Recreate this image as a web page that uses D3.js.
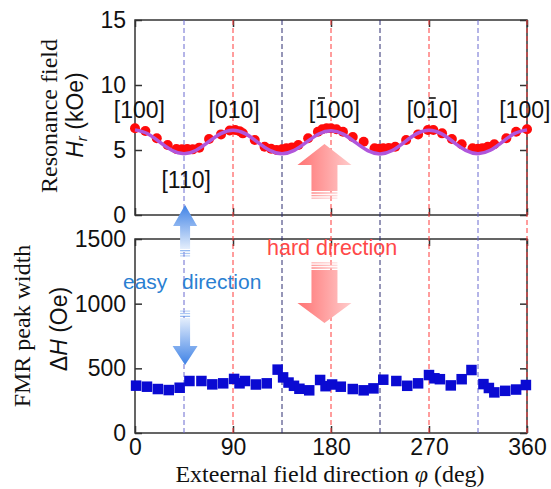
<!DOCTYPE html>
<html>
<head>
<meta charset="utf-8">
<script src="https://cdn.jsdelivr.net/npm/d3@7"></script>
<style>
body { margin: 0; background: #fff; }
svg { display: block; }
.tick text { font-family: "Liberation Sans", Arial, sans-serif; font-size: 23px; fill: #111; }
.tick line { stroke: #333; stroke-width: 1.5; }
.serif { font-family: "Liberation Serif", "Times New Roman", serif; }
.sans { font-family: "Liberation Sans", Arial, sans-serif; }
</style>
</head>
<body>
<div id="root"></div>
<script>
// resonance field (kOe) vs angle
const hrPhi = [0, 9.5, 20, 30, 38, 43, 48, 53, 59, 68, 79, 87, 92, 96, 99, 110, 119, 125, 130, 135, 139, 144, 150, 159, 168, 172, 176, 180, 185, 191, 200, 210, 220, 224, 228, 233, 239, 249, 260, 269, 274, 282, 291, 300, 310, 315, 319, 324, 330, 341, 350, 360];
const hrVal = [6.67, 6.46, 5.9, 5.38, 5.08, 5.05, 5.08, 5.05, 5.18, 5.85, 6.2, 6.5, 6.54, 6.45, 6.28, 5.77, 5.25, 5.1, 5.0, 5.05, 5.13, 5.2, 5.38, 5.9, 6.4, 6.6, 6.67, 6.67, 6.6, 6.4, 6.0, 5.64, 5.13, 5.1, 5.13, 5.15, 5.25, 5.77, 6.2, 6.54, 6.54, 6.28, 5.85, 5.44, 5.13, 5.1, 5.13, 5.25, 5.44, 5.9, 6.4, 6.6];

// fitted curve
const fitPhi = [0, 11.25, 22.5, 33.75, 45, 56.25, 67.5, 78.75, 90, 101.25, 112.5, 123.75, 135, 146.25, 157.5, 168.75, 180, 191.25, 202.5, 213.75, 225, 236.25, 247.5, 258.75, 270, 281.25, 292.5, 303.75, 315, 326.25, 337.5, 348.75, 360];
const fitVal = [6.55, 6.27, 5.62, 4.98, 4.72, 4.98, 5.62, 6.26, 6.52, 6.26, 5.61, 4.97, 4.72, 4.97, 5.6, 6.23, 6.48, 6.22, 5.58, 4.95, 4.7, 4.96, 5.61, 6.26, 6.52, 6.26, 5.61, 4.97, 4.72, 4.98, 5.63, 6.28, 6.55];

// FMR peak width (Oe)
const dhPhi = [1, 11, 21, 31, 41, 50, 61, 71, 81, 91, 96, 101, 111, 121, 131, 136, 141, 146, 151, 160, 170, 175, 181, 189, 200, 210, 219, 228, 240, 250, 260, 270, 275, 280, 290, 300, 309, 320, 325, 330, 340, 350, 359];
const dhVal = [366, 358, 340, 332, 350, 402, 402, 376, 384, 418, 384, 402, 375, 384, 490, 430, 390, 365, 342, 330, 410, 362, 375, 358, 340, 330, 345, 412, 402, 365, 384, 448, 423, 416, 368, 416, 487, 378, 348, 314, 326, 336, 371];

const xTicks = [0, 90, 180, 270, 360];
const hrTicks = [0, 5, 10, 15];
const dhTicks = [0, 500, 1000, 1500];

const guideAngles = [45, 90, 135, 180, 225, 270, 315, 360];
const guideColors = ["#6a6ad0", "#ff3b3b", "#2c2c70", "#ff3b3b", "#2c2c70", "#ff3b3b", "#6a6ad0", "#ff3b3b"];

// bar = index of the character that carries an overbar
const dirLabels = [
	{ text: "[100]", phi: 4, hr: 7.5 },
	{ text: "[010]", phi: 91, hr: 7.5 },
	{ text: "[100]", phi: 183, hr: 7.5, bar: 1 },
	{ text: "[010]", phi: 273, hr: 7.5, bar: 2 },
	{ text: "[100]", phi: 358, hr: 7.5 },
	{ text: "[110]", phi: 47, hr: 2.05 }
];

const W = 551, H = 489;
const x = d3.scaleLinear().domain([0, 360]).range([135, 527]);
const yTop = d3.scaleLinear().domain([0, 15]).range([215, 20]);
const yBot = d3.scaleLinear().domain([0, 1500]).range([433, 239]);

const svg = d3.select("#root").append("svg").attr("width", W).attr("height", H);

const defs = svg.append("defs");
const blueUp = defs.append("linearGradient").attr("id", "blueUp").attr("x1", 0).attr("y1", 0).attr("x2", 0).attr("y2", 1);
blueUp.append("stop").attr("offset", "0%").attr("stop-color", "#3f82e6");
blueUp.append("stop").attr("offset", "100%").attr("stop-color", "#e4eefc");
const blueDown = defs.append("linearGradient").attr("id", "blueDown").attr("x1", 0).attr("y1", 0).attr("x2", 0).attr("y2", 1);
blueDown.append("stop").attr("offset", "0%").attr("stop-color", "#e4eefc");
blueDown.append("stop").attr("offset", "100%").attr("stop-color", "#3f82e6");
const redGrad = defs.append("linearGradient").attr("id", "redGrad").attr("x1", 0).attr("y1", 0).attr("x2", 1).attr("y2", 0);
redGrad.append("stop").attr("offset", "0%").attr("stop-color", "#ff7373");
redGrad.append("stop").attr("offset", "100%").attr("stop-color", "#ffcccc");

const drawPanel = (yScale, ticks, withXLabels) => {
	const [y0, y1] = yScale.range();
	const g = svg.append("g");
	g.append("g").attr("transform", `translate(0,${y0})`)
		.call(d3.axisBottom(x).tickValues(xTicks).tickSize(-7).tickPadding(6).tickFormat(withXLabels ? d3.format("d") : ""))
		.call(a => a.select(".domain").remove());
	g.append("g").attr("transform", `translate(0,${y1})`)
		.call(d3.axisTop(x).tickValues(xTicks).tickSize(-7).tickFormat(""))
		.call(a => a.select(".domain").remove());
	g.append("g").attr("transform", `translate(${x(0)},0)`)
		.call(d3.axisLeft(yScale).tickValues(ticks).tickSize(-7).tickPadding(9).tickFormat(d3.format("d")))
		.call(a => a.select(".domain").remove());
	g.append("g").attr("transform", `translate(${x(360)},0)`)
		.call(d3.axisRight(yScale).tickValues(ticks).tickSize(-7).tickFormat(""))
		.call(a => a.select(".domain").remove());
	g.append("rect")
		.attr("x", x(0)).attr("y", y1)
		.attr("width", x(360) - x(0)).attr("height", y0 - y1)
		.attr("fill", "none").attr("stroke", "#333").attr("stroke-width", 1.5);
};

drawPanel(yTop, hrTicks, false);
drawPanel(yBot, dhTicks, true);

// guide lines through both panels
svg.append("g").selectAll("line")
	.data(guideAngles)
	.enter()
	.append("line")
	.attr("x1", d => x(d)).attr("x2", d => x(d))
	.attr("y1", yTop(15)).attr("y2", yBot(0))
	.attr("stroke", (d, i) => guideColors[i])
	.attr("stroke-width", 1)
	.attr("stroke-dasharray", "5,3");

// resonance field points and fit
svg.append("g").selectAll("circle")
	.data(hrPhi)
	.enter()
	.append("circle")
	.attr("cx", d => x(d))
	.attr("cy", (d, i) => yTop(hrVal[i]))
	.attr("r", 5)
	.attr("fill", "#ff0a0a");

const fitLine = d3.line()
	.x(d => x(d))
	.y((d, i) => yTop(fitVal[i]))
	.curve(d3.curveNatural);

svg.append("path")
	.attr("d", fitLine(fitPhi))
	.attr("fill", "none")
	.attr("stroke", "#b056dc")
	.attr("stroke-width", 3.5);

// peak width squares
const sq = 10.5;
svg.append("g").selectAll("rect")
	.data(dhPhi)
	.enter()
	.append("rect")
	.attr("x", d => x(d) - sq / 2)
	.attr("y", (d, i) => yBot(dhVal[i]) - sq / 2)
	.attr("width", sq).attr("height", sq)
	.attr("fill", "#0a0ad2");

// arrows: block arrow with striped tail
const drawArrow = (cx, tip, headEnd, shaftEnd, headHalf, shaftHalf, fill) => {
	const dir = Math.sign(headEnd - tip);
	const path = d3.path();
	path.moveTo(cx, tip);
	path.lineTo(cx + headHalf, headEnd);
	path.lineTo(cx + shaftHalf, headEnd);
	path.lineTo(cx + shaftHalf, shaftEnd);
	path.lineTo(cx - shaftHalf, shaftEnd);
	path.lineTo(cx - shaftHalf, headEnd);
	path.lineTo(cx - headHalf, headEnd);
	path.closePath();
	const g = svg.append("g");
	g.append("path").attr("d", path.toString()).attr("fill", fill);
	[0, 1, 2].forEach(k => {
		const y = shaftEnd + dir * (2 + k * 2.6);
		g.append("rect")
			.attr("x", cx - shaftHalf).attr("width", shaftHalf * 2)
			.attr("y", y - 0.7).attr("height", 1.4)
			.attr("fill", fill).attr("opacity", 0.9 - k * 0.2);
	});
};

drawArrow(x(46), 205, 226, 249, 12, 5, "url(#blueUp)");
drawArrow(x(46), 365, 346, 318, 12.5, 5, "url(#blueDown)");
drawArrow(x(174), 144, 165, 191, 27, 13, "url(#redGrad)");
drawArrow(x(174), 323, 303, 270, 27, 13, "url(#redGrad)");

// direction labels
const labs = svg.append("g").attr("class", "sans").attr("font-size", 23).attr("fill", "#111");
dirLabels.forEach(l => {
	const t = labs.append("text")
		.attr("x", x(l.phi)).attr("y", yTop(l.hr))
		.attr("text-anchor", "middle")
		.text(l.text);
	if (l.bar !== undefined) {
		const box = t.node().getExtentOfChar(l.bar);
		const cx = box.x + box.width / 2;
		labs.append("line")
			.attr("x1", cx - 3.5).attr("x2", cx + 3.5)
			.attr("y1", yTop(l.hr) - 19.5).attr("y2", yTop(l.hr) - 19.5)
			.attr("stroke", "#111").attr("stroke-width", 1.6);
	}
});

svg.append("text").attr("class", "sans")
	.attr("x", 123).attr("y", 289).attr("font-size", 21).attr("fill", "#2a7fd2").text("easy");
svg.append("text").attr("class", "sans")
	.attr("x", 182).attr("y", 289).attr("font-size", 21).attr("fill", "#2a7fd2").text("direction");
svg.append("text").attr("class", "sans")
	.attr("x", 267).attr("y", 255).attr("font-size", 21.5).attr("fill", "#ff4848").text("hard direction");

// axis titles
const ytl = svg.append("g").attr("transform", "translate(57,116) rotate(-90)");
ytl.append("text").attr("class", "serif").attr("text-anchor", "middle").attr("font-size", 24).attr("fill", "#111").text("Resonance field");
const ytl2 = svg.append("text").attr("class", "sans").attr("text-anchor", "middle").attr("font-size", 23).attr("fill", "#111")
	.attr("transform", "translate(83,115) rotate(-90)");
ytl2.append("tspan").attr("font-style", "italic").text("H");
ytl2.append("tspan").attr("font-style", "italic").attr("font-size", 15).attr("dy", 4).text("r");
ytl2.append("tspan").attr("dy", -4).text(" (kOe)");

svg.append("text").attr("class", "serif").attr("text-anchor", "middle").attr("font-size", 24).attr("fill", "#111")
	.attr("transform", "translate(30,326) rotate(-90)").text("FMR peak width");
const ybl2 = svg.append("text").attr("class", "sans").attr("text-anchor", "middle").attr("font-size", 23).attr("fill", "#111")
	.attr("transform", "translate(67,329) rotate(-90)");
ybl2.append("tspan").text("\u0394");
ybl2.append("tspan").attr("font-style", "italic").text("H");
ybl2.append("tspan").text(" (Oe)");

const xt = svg.append("text").attr("class", "serif").attr("text-anchor", "middle").attr("font-size", 24).attr("fill", "#111")
	.attr("x", 330).attr("y", 482);
xt.append("tspan").text("Exteernal field direction ");
xt.append("tspan").attr("font-style", "italic").text("\u03c6");
xt.append("tspan").text(" (deg)");
</script>
</body>
</html>
